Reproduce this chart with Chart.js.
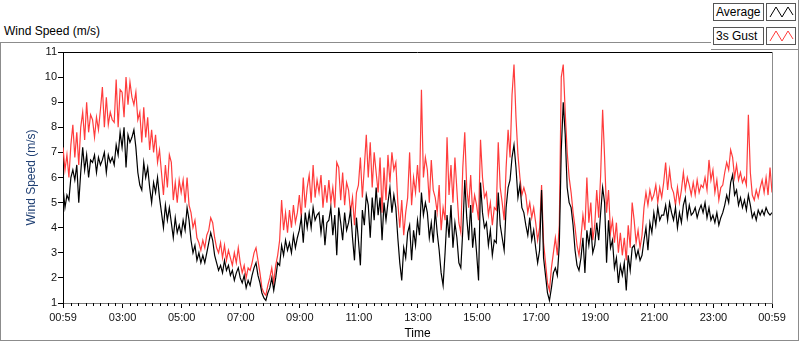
<!DOCTYPE html>
<html>
<head>
<meta charset="utf-8">
<script src="https://cdn.jsdelivr.net/npm/chart.js@4.4.0/dist/chart.umd.min.js"></script>
<style>
body { margin: 0; background: #fff; font-family: "Liberation Sans", Arial, sans-serif; }
#wrap { position: relative; width: 800px; height: 342px; overflow: hidden; }
#frame { position: absolute; left: 0; top: 42px; width: 799px; height: 299px; box-sizing: border-box; border: 1px solid #8c8c8c; }
#title { position: absolute; left: 4px; top: 24px; font-size: 12px; color: #000; }
#legend { position: absolute; left: 711px; top: 0; width: 88px; height: 50px; background: #fff; box-sizing: border-box; border-right: 1px solid #8c8c8c; border-bottom: 1px solid #8c8c8c; }
.lgText { position: absolute; left: 2px; width: 51px; height: 18px; box-sizing: border-box; border: 1px solid #555; font-size: 12px; line-height: 16px; padding-left: 2px; color: #000; white-space: nowrap; }
.lgIcon { position: absolute; left: 55px; width: 30px; height: 18px; box-sizing: border-box; border: 1px solid #555; }
canvas { position: absolute; left: 0; top: 0; }
</style>
</head>
<body>
<div id="wrap">
  <div id="frame"></div>
  <div id="title">Wind Speed (m/s)</div>
  <div id="legend">
    <div class="lgText" style="top:3px">Average</div>
    <div class="lgIcon" style="top:3px"><svg width="28" height="16"><polyline points="3,13 9,3 15,13 21,3 26,11" fill="none" stroke="#000" stroke-width="1"/></svg></div>
    <div class="lgText" style="top:27px">3s Gust</div>
    <div class="lgIcon" style="top:27px"><svg width="28" height="16"><polyline points="3,13 9,3 15,13 21,3 26,11" fill="none" stroke="#ff3c3c" stroke-width="1"/></svg></div>
  </div>
  <canvas id="chart" width="800" height="342"></canvas>
</div>
<script>
// time axis: minutes of day, one reading every 4 minutes starting at 00:59
const startMinute = 59;
const stepMinutes = 4;
const minorStep = 15;

const majorTicks = [59, 180, 300, 420, 540, 660, 780, 900, 1020, 1140, 1260, 1380, 1499];
const majorLabels = ['00:59', '03:00', '05:00', '07:00', '09:00', '11:00', '13:00', '15:00', '17:00', '19:00', '21:00', '23:00', '00:59'];
const yTicks = [1, 2, 3, 4, 5, 6, 7, 8, 9, 10, 11];

const averageSpeed = [
    5.6, 4.8, 5.3, 5.1, 6.0, 6.3, 5.9, 6.5, 5.0, 6.2,
    7.2, 6.3, 6.9, 6.0, 6.7, 6.6, 6.9, 6.2, 6.8, 6.5,
    6.7, 7.0, 6.2, 6.9, 6.6, 6.8, 6.5, 7.3, 6.9, 7.8,
    7.2, 8.0, 6.4, 7.7, 7.4, 7.6, 7.9, 7.2, 6.2, 5.7,
    5.5, 6.6, 6.0, 6.4, 5.6, 5.0, 5.8, 5.4, 6.0, 5.2,
    4.6, 4.0, 4.9, 4.3, 4.8, 4.2, 3.6, 4.4, 3.8, 4.1,
    3.7, 4.3, 3.9, 4.8, 4.3, 3.5, 3.0, 3.3, 2.7, 3.0,
    2.6, 2.9, 2.6, 3.0, 3.4, 3.8, 3.5, 2.9, 2.6, 2.3,
    2.5, 2.2, 2.7, 2.3, 2.5, 2.1, 2.3, 1.9, 2.2, 2.4,
    2.0, 1.8, 2.1, 1.6, 1.9, 1.7, 2.1, 2.4, 2.6, 2.1,
    1.8, 1.4, 1.2, 1.1, 1.4, 1.6, 2.0, 1.5, 2.0, 2.6,
    2.5, 3.3, 2.9, 3.5, 3.1, 3.4, 3.0, 3.7, 3.2, 3.6,
    3.9, 4.4, 3.4, 4.6, 4.0, 4.6, 4.0, 4.8, 4.3, 4.5,
    4.6, 3.8, 4.5, 3.3, 4.2, 4.3, 4.8, 3.7, 4.5, 2.9,
    4.8, 4.2, 3.5, 4.6, 3.9, 4.2, 4.7, 3.6, 2.7, 4.4,
    3.5, 2.5, 4.7, 4.1, 5.3, 4.9, 3.6, 5.2, 4.3, 5.6,
    4.5, 5.2, 3.5, 5.0, 4.3, 5.0, 5.6, 4.6, 5.3, 4.8,
    3.6, 2.6, 1.9, 3.2, 2.8, 3.8, 4.1, 2.7, 3.9, 3.3,
    4.3, 3.7, 5.4, 4.5, 5.0, 4.6, 3.6, 4.2, 3.4, 4.7,
    3.8, 3.1, 2.2, 1.7, 3.0, 4.5, 3.6, 4.9, 3.2, 4.2,
    3.6, 2.6, 2.4, 3.9, 5.9, 4.4, 3.5, 4.9, 3.2, 4.0,
    3.0, 1.9, 5.8, 4.6, 4.0, 4.2, 3.3, 3.9, 2.9, 3.5,
    3.4, 5.4, 4.1, 3.6, 3.1, 4.8, 5.6, 5.9, 6.8, 7.3,
    6.4, 5.2, 5.7, 4.8, 4.6, 4.1, 3.7, 4.4, 3.5, 3.9,
    3.2, 2.6, 3.1, 5.5, 2.8, 2.1, 1.4, 1.1, 1.6, 2.2,
    2.4, 2.1, 3.3, 7.1, 9.0, 7.7, 5.6, 5.0, 4.8, 4.1,
    3.1, 2.5, 2.3, 2.8, 3.6, 2.2, 3.9, 3.3, 4.0, 3.0,
    3.3, 4.2, 3.5, 4.6, 5.6, 5.0, 2.6, 4.3, 3.2, 3.5,
    2.4, 2.8, 1.8, 2.5, 2.1, 2.6, 1.5, 2.9, 2.3, 3.2,
    3.3, 2.8, 3.1, 2.7, 2.9, 3.5, 4.0, 3.1, 4.2, 3.8,
    4.6, 4.1, 4.8, 4.3, 4.5, 4.5, 4.9, 4.3, 5.0, 4.6,
    4.3, 4.8, 4.0, 4.6, 4.2, 4.9, 5.2, 4.4, 4.9, 4.5,
    4.6, 4.8, 4.4, 4.7, 4.9, 4.6, 5.0, 4.4, 4.8, 4.3,
    4.5, 4.2, 4.6, 4.1, 4.4, 4.6, 4.9, 5.3, 5.0, 5.8,
    6.1, 5.3, 5.5, 4.9, 5.2, 4.8, 5.1, 4.7, 5.3, 4.9,
    4.4, 4.6, 4.3, 4.7, 4.5, 4.7, 4.5, 4.8, 4.6, 4.5,
    4.6
];

const gustSpeed = [
    7.2, 6.3, 6.9, 6.0, 7.3, 8.1, 6.8, 7.8, 6.5, 8.0,
    8.6, 7.5, 9.0, 7.8, 8.5, 8.3, 7.6, 8.4, 7.9, 8.7,
    9.6, 8.0, 9.2, 8.1, 8.6, 8.3, 8.2, 9.9, 8.0, 9.5,
    9.4, 8.4, 10.0, 8.9, 9.8, 9.2, 8.9, 9.4, 8.3, 8.6,
    7.4, 8.8, 7.6, 8.4, 7.1, 7.9, 7.0, 7.7, 6.6, 7.1,
    6.2, 5.3, 6.5, 5.6, 6.9, 6.6, 5.1, 5.8, 5.0, 5.9,
    5.4, 5.9, 5.0, 6.0, 4.9, 4.6, 4.0, 4.3, 3.6, 3.4,
    3.1, 3.5, 3.2, 3.7, 3.9, 4.4, 4.2, 3.6, 3.2, 3.0,
    3.4, 2.8, 3.3, 2.7, 3.1, 2.8, 2.5, 3.0, 2.6, 3.2,
    2.6, 2.2, 2.5, 2.0, 2.4, 2.3, 2.6, 3.0, 3.2, 2.7,
    2.2, 1.6, 1.4, 1.3, 1.7, 2.0, 2.4, 1.8, 2.5, 2.9,
    3.5, 5.1, 3.9, 4.6, 3.8, 4.7, 4.0, 4.9, 4.2, 4.6,
    5.3, 4.4, 6.0, 4.8, 5.6, 6.1, 5.0, 6.5, 5.2, 5.9,
    5.4, 6.1, 4.8, 5.7, 5.0, 5.9, 5.0, 5.6, 4.8, 6.6,
    6.4, 5.1, 6.2, 4.9, 5.8, 5.5, 4.6, 5.2, 4.1, 5.4,
    5.7, 6.8, 5.2, 6.4, 7.7, 6.0, 7.4, 5.6, 7.0, 6.2,
    5.4, 6.8, 4.6, 6.4, 5.1, 6.9, 5.8, 7.0, 6.3, 6.6,
    5.0, 4.0, 5.1, 3.7, 4.6, 5.2, 7.0, 4.9, 6.0, 5.4,
    6.5, 5.4, 9.5, 6.0, 6.8, 6.3, 5.0, 6.7, 5.5, 5.2,
    4.6, 5.7, 3.9, 4.8, 4.3, 7.6, 5.3, 6.5, 5.0, 6.8,
    5.5, 4.2, 3.8, 6.4, 7.8, 5.6, 4.8, 6.1, 4.6, 5.3,
    4.9, 4.3, 7.5, 6.0, 5.2, 5.4, 4.5, 5.0, 4.1, 4.8,
    4.7, 7.4, 5.6, 5.0, 4.3, 6.4, 7.9, 6.8, 9.3, 10.5,
    8.4, 6.9, 6.0, 5.3, 5.6, 5.3, 4.6, 5.0, 4.4, 4.8,
    4.2, 3.5, 4.0, 5.7, 3.4, 2.6, 1.8, 1.5, 2.4, 3.0,
    3.6, 2.9, 4.1, 10.0, 10.5, 8.6, 7.0, 6.0, 5.4, 4.6,
    4.0, 3.3, 2.9, 3.6, 4.5, 3.9, 6.0, 4.2, 5.0, 3.5,
    4.1, 5.5, 4.4, 6.1, 8.7, 6.8, 4.6, 5.5, 3.8, 4.3,
    3.4, 4.2, 3.0, 3.8, 2.9, 3.6, 2.7, 4.1, 3.2, 5.0,
    4.3, 3.4, 3.9, 3.2, 3.7, 4.8, 5.4, 4.9, 5.5, 5.1,
    5.3, 5.7, 5.0, 5.6, 5.2, 5.8, 6.6, 5.5, 6.3, 5.6,
    5.4, 4.9, 5.6, 5.0, 5.5, 6.2, 5.5, 6.0, 5.7, 5.3,
    5.8, 5.3, 5.9, 5.4, 5.7, 5.6, 6.0, 5.5, 6.7, 5.9,
    6.3, 5.4, 5.9, 5.1, 5.6, 5.7, 6.2, 6.6, 6.3, 7.1,
    6.8, 6.0, 6.5, 5.9, 6.2, 5.8, 6.0, 5.7, 8.5, 6.2,
    5.3, 5.1, 5.5, 5.2, 5.6, 5.9, 5.4, 6.0, 5.3, 6.4,
    5.4
];

const timeMinutes = averageSpeed.map((_, i) => startMinute + i * stepMinutes);

const tickFont = { family: '"Liberation Sans", Arial, sans-serif', size: 11 };
const titleFont = { family: '"Liberation Sans", Arial, sans-serif', size: 12 };

// short ticks every 15 minutes between the labelled ones
const minorTicks = {
    id: 'minorTicks',
    afterDraw(chart) {
        const xScale = chart.scales.x;
        const ctx = chart.ctx;
        ctx.save();
        ctx.strokeStyle = '#000';
        ctx.lineWidth = 1;
        for (let m = 60 + minorStep; m < majorTicks[majorTicks.length - 1]; m += minorStep) {
            if (majorTicks.includes(m)) continue;
            const px = Math.round(xScale.getPixelForValue(m)) + 0.5;
            ctx.beginPath();
            ctx.moveTo(px, xScale.top);
            ctx.lineTo(px, xScale.top + 3);
            ctx.stroke();
        }
        ctx.restore();
    }
};

// top and right edges of the plot box
const plotFrame = {
    id: 'plotFrame',
    afterDraw(chart) {
        const { ctx, chartArea: a } = chart;
        ctx.save();
        ctx.lineWidth = 1;
        ctx.strokeStyle = '#000';
        ctx.beginPath();
        ctx.moveTo(a.left, Math.round(a.top) + 0.5);
        ctx.lineTo(a.right, Math.round(a.top) + 0.5);
        ctx.stroke();
        ctx.strokeStyle = '#8c8c8c';
        ctx.beginPath();
        ctx.moveTo(Math.round(a.right) + 0.5, a.top);
        ctx.lineTo(Math.round(a.right) + 0.5, a.bottom);
        ctx.stroke();
        ctx.restore();
    }
};

new Chart(document.getElementById('chart'), {
    type: 'line',
    data: {
        datasets: [{
            label: 'Average',
            data: averageSpeed.map((v, i) => ({ x: timeMinutes[i], y: v })),
            borderColor: '#000000',
            borderWidth: 1.2,
            pointRadius: 0,
            tension: 0
        }, {
            label: '3s Gust',
            data: gustSpeed.map((v, i) => ({ x: timeMinutes[i], y: v })),
            borderColor: '#ff3c3c',
            borderWidth: 1.2,
            pointRadius: 0,
            tension: 0
        }]
    },
    options: {
        responsive: false,
        animation: false,
        devicePixelRatio: 1,
        layout: { padding: { top: 52, right: 28, left: 0, bottom: 0 } },
        plugins: { legend: { display: false }, tooltip: { enabled: false } },
        scales: {
            x: {
                type: 'linear',
                min: majorTicks[0],
                max: majorTicks[majorTicks.length - 1],
                afterBuildTicks: scale => { scale.ticks = majorTicks.map(v => ({ value: v })); },
                afterFit: scale => { scale.height = 39; },
                ticks: {
                    autoSkip: false,
                    maxRotation: 0,
                    padding: 3,
                    color: '#111',
                    font: tickFont,
                    callback: (v, i) => majorLabels[i]
                },
                grid: { drawOnChartArea: false, tickLength: 5, color: '#000' },
                border: { color: '#7a7a7a' },
                title: { display: true, text: 'Time', color: '#000', font: titleFont, padding: { top: 0, bottom: 1 } }
            },
            y: {
                min: yTicks[0],
                max: yTicks[yTicks.length - 1],
                afterBuildTicks: scale => { scale.ticks = yTicks.map(v => ({ value: v })); },
                afterFit: scale => { scale.width = 63; },
                ticks: { padding: 1, color: '#111', font: tickFont },
                grid: { drawOnChartArea: false, tickLength: 5, color: '#000' },
                border: { color: '#000' },
                title: { display: true, text: 'Wind Speed (m/s)', color: '#1f3f73', font: titleFont, padding: { top: 24 } }
            }
        }
    },
    plugins: [minorTicks, plotFrame]
});
</script>
</body>
</html>
